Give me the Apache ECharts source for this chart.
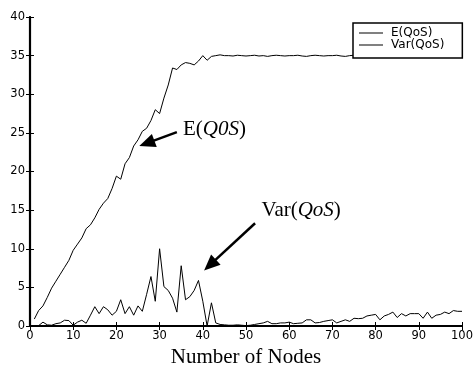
<!DOCTYPE html>
<html>
<head>
<meta charset="utf-8">
<script src="https://cdn.jsdelivr.net/npm/echarts@6/dist/echarts.min.js"></script>
<style>html,body{margin:0;padding:0;background:#fff}#c{width:473px;height:366px}</style>
</head>
<body>
<div id="c"></div>
<script>
const nodes = [1,2,3,4,5,6,7,8,9,10,11,12,13,14,15,16,17,18,19,20,21,22,23,24,25,26,27,28,29,30,31,32,33,34,35,36,37,38,39,40,41,42,43,44,45,46,47,48,49,50,51,52,53,54,55,56,57,58,59,60,61,62,63,64,65,66,67,68,69,70,71,72,73,74,75,76,77,78,79,80,81,82,83,84,85,86,87,88,89,90,91,92,93,94,95,96,97,98,99,100];
const eQoS = [0.9,2.0,2.6,3.7,4.9,5.8,6.7,7.6,8.5,9.8,10.6,11.4,12.6,13.1,14.0,15.1,15.9,16.5,17.8,19.4,
  19.0,21.0,21.8,23.3,24.1,25.2,25.6,26.6,28.0,27.5,29.5,31.2,33.4,33.2,33.8,34.1,34.0,33.8,34.3,35.0,
  34.4,34.9,35.0,35.1,35.0,35.0,34.95,35.05,35.0,34.95,35.0,35.05,34.95,35.0,34.9,35.0,35.05,35.0,34.95,35.0,
  35.0,35.05,34.95,34.9,35.0,35.05,35.0,34.95,35.0,35.0,35.05,34.95,34.9,35.0,35.05,35.0,35.0,34.95,35.0,35.05,
  35.0,35.0,34.9,35.0,35.05,35.0,35.0,35.0,34.95,35.0,35.05,35.0,35.0,35.0,34.95,35.05,35.0,35.0,35.05,35.05];
const varQoS = [0.05,0.05,0.5,0.15,0.1,0.3,0.4,0.75,0.7,0.1,0.5,0.75,0.35,1.4,2.5,1.6,2.5,2.1,1.4,1.9,
  3.4,1.6,2.5,1.4,2.6,1.9,4.1,6.4,3.2,10.0,5.1,4.6,3.6,1.8,7.8,3.4,3.8,4.6,5.9,3.2,
  0.0,3.0,0.4,0.2,0.15,0.1,0.1,0.15,0.1,0.05,0.1,0.2,0.3,0.4,0.6,0.3,0.3,0.4,0.4,0.5,
  0.3,0.35,0.4,0.8,0.8,0.4,0.45,0.6,0.7,0.8,0.4,0.6,0.8,0.6,1.0,0.95,1.0,1.3,1.4,1.5,
  0.8,1.3,1.5,1.8,1.1,1.6,1.3,1.6,1.6,1.6,1.0,1.8,1.0,1.4,1.5,1.8,1.6,2.0,1.9,1.9];
const xTicks = {min:0, max:100, interval:10};
const yTicks = {min:0, max:40, interval:5};
const seriesNames = ['E(QoS)','Var(QoS)'];

const chart = echarts.init(document.getElementById('c'), null, {renderer:'canvas'});
const lbl = {color:'#000', fontFamily:'DejaVu Sans', fontSize:11.5};
const axLine = {show:true, lineStyle:{color:'#000', width:2.2}};
const tick = {show:true, inside:true, length:4, lineStyle:{color:'#000', width:1}};
chart.setOption({
  animation:false,
  backgroundColor:'#fff',
  grid:{left:30, right:11, top:17, bottom:40, containLabel:false, outerBoundsMode:'none'},
  legend:{
    orient:'vertical', left:353, top:23, itemWidth:24, itemHeight:11, itemGap:0,
    padding:[4,4,7,6], borderColor:'#000', borderWidth:1.5, backgroundColor:'#fff',
    icon:'path://M0,0 H24 V1 H0 Z',
    textStyle:{color:'#000', fontFamily:'DejaVu Sans', fontSize:12, lineHeight:11, padding:[0,14,0,3]},
    data:seriesNames
  },
  xAxis:[
    {type:'value', min:xTicks.min, max:xTicks.max, interval:xTicks.interval, position:'bottom',
     axisLine:axLine, axisTick:tick, splitLine:{show:false},
     axisLabel:Object.assign({margin:4}, lbl),
     name:'Number of Nodes', nameLocation:'middle', nameGap:21,
     nameTextStyle:{color:'#000', fontFamily:'Liberation Serif', fontSize:21}},
    {type:'value', min:xTicks.min, max:xTicks.max, interval:xTicks.interval, position:'top',
     axisLine:{show:true, lineStyle:{color:'#000', width:1.5}}, axisTick:tick, axisLabel:{show:false}, splitLine:{show:false}}
  ],
  yAxis:[
    {type:'value', min:yTicks.min, max:yTicks.max, interval:yTicks.interval, position:'left',
     axisLine:axLine, axisTick:tick, splitLine:{show:false},
     axisLabel:Object.assign({margin:5}, lbl)},
    {type:'value', min:yTicks.min, max:yTicks.max, interval:yTicks.interval, position:'right',
     axisLine:{show:true, lineStyle:{color:'#000', width:1.5}}, axisTick:tick, axisLabel:{show:false}, splitLine:{show:false}}
  ],
  series:[
    {name:seriesNames[0], type:'line', symbol:'none', xAxisIndex:0, yAxisIndex:0,
     lineStyle:{color:'#000', width:1}, itemStyle:{color:'#000'},
     data:nodes.map((n,i)=>[n,eQoS[i]])},
    {name:seriesNames[1], type:'line', symbol:'none', xAxisIndex:0, yAxisIndex:0,
     lineStyle:{color:'#000', width:1}, itemStyle:{color:'#000'},
     data:nodes.map((n,i)=>[n,varQoS[i]])}
  ]
});

// annotations (data coordinates)
const annE = {text:[35.4,25.4], from:[34.0,25.1], to:[25.3,23.3]};
const annV = {text:[53.6,15.0], from:[52.1,13.3], to:[40.3,7.2]};
function px(p){ return chart.convertToPixel({gridIndex:0}, p); }
function arrow(a, b){
  const A = px(a), B = px(b);
  const dx = B[0]-A[0], dy = B[1]-A[1], L = Math.hypot(dx,dy);
  const ux = dx/L, uy = dy/L, hl = 16, hw = 7;
  const bx = B[0]-ux*hl, by = B[1]-uy*hl;
  return [
    {type:'line', shape:{x1:A[0], y1:A[1], x2:bx+ux*2, y2:by+uy*2}, style:{stroke:'#000', lineWidth:2.5}, z:100},
    {type:'polygon', shape:{points:[[B[0],B[1]],[bx-uy*hw, by+ux*hw],[bx+uy*hw, by-ux*hw]]}, style:{fill:'#000'}, z:100}
  ];
}
const rich = {n:{fontFamily:'Liberation Serif', fontSize:21, fill:'#000'}, i:{fontFamily:'Liberation Serif', fontSize:21, fontStyle:'italic', fill:'#000'}};
const tE = px(annE.text), tV = px(annV.text);
chart.setOption({graphic:[
  ...arrow(annE.from, annE.to),
  ...arrow(annV.from, annV.to),
  {type:'text', x:tE[0], y:tE[1], z:100, style:{text:'{n|E(}{i|Q0S}{n|)}', rich:rich, verticalAlign:'middle', fill:'#000'}},
  {type:'text', x:tV[0], y:tV[1], z:100, style:{text:'{n|Var(}{i|QoS}{n|)}', rich:rich, verticalAlign:'middle', fill:'#000'}}
]});
</script>
</body>
</html>
